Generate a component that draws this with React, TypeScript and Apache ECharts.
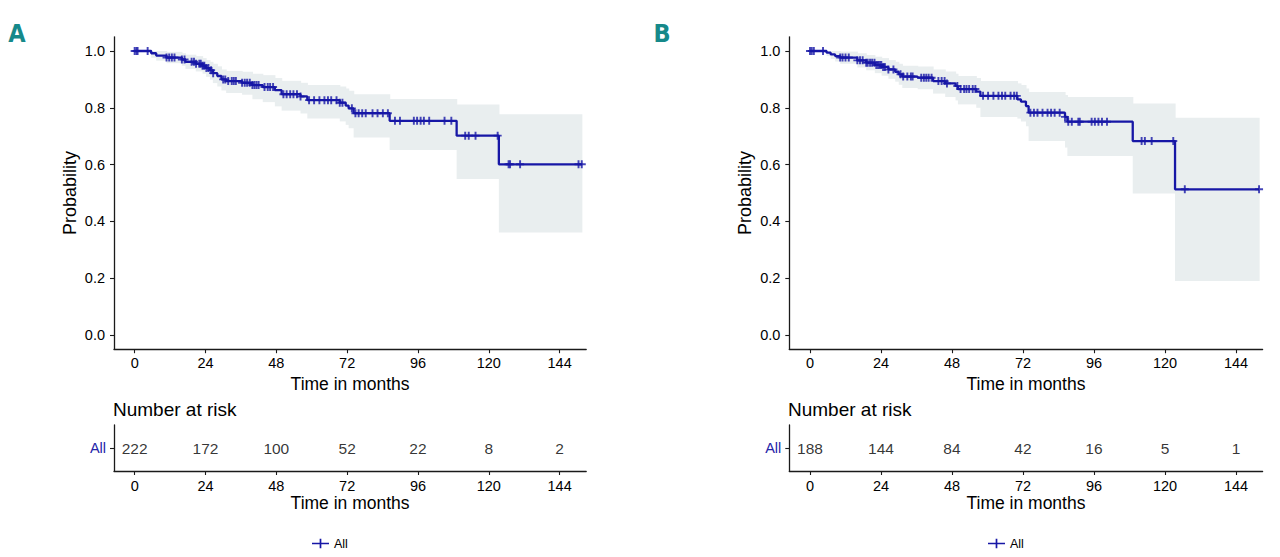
import React, { useEffect, useRef } from "react";
import * as echarts from "echarts";

// ---------- Data ----------
const X_TICKS = [0, 24, 48, 72, 96, 120, 144];
const Y_TICKS = [0, 0.2, 0.4, 0.6, 0.8, 1.0];
const RISK_ROWS = ["All"];

// Panel A: Kaplan–Meier steps
const TIME_A = [0, 5.6, 7.3, 10.8, 16.0, 17.2, 20.7, 23.0, 24.2, 25.5, 26.5, 28.0, 29.4, 31.0, 36.4, 39.9, 43.4, 47.5, 49.8, 56.2, 58.5, 69.5, 71.5, 72.5, 74.2, 86.4, 109.1, 123.4];
const SURV_A = [1.0, 0.992, 0.984, 0.977, 0.970, 0.962, 0.955, 0.948, 0.940, 0.932, 0.922, 0.912, 0.900, 0.894, 0.888, 0.880, 0.873, 0.862, 0.848, 0.840, 0.827, 0.818, 0.808, 0.798, 0.781, 0.754, 0.702, 0.601];
const LOWER_A = [1.0, 0.976, 0.966, 0.957, 0.948, 0.937, 0.928, 0.920, 0.909, 0.899, 0.887, 0.875, 0.861, 0.852, 0.846, 0.830, 0.820, 0.805, 0.790, 0.780, 0.762, 0.752, 0.740, 0.728, 0.695, 0.651, 0.549, 0.361];
const UPPER_A = [1.0, 1.0, 1.0, 0.997, 0.992, 0.987, 0.982, 0.975, 0.968, 0.962, 0.955, 0.946, 0.935, 0.930, 0.927, 0.920, 0.915, 0.905, 0.895, 0.888, 0.880, 0.875, 0.868, 0.860, 0.848, 0.831, 0.812, 0.777];
const END_A = 151.5;
const CENSOR_A = [0, 0.6, 1.0, 4.4, 10.8, 11.7, 12.6, 13.5, 16.0, 16.9, 19.3, 20.1, 20.8, 21.9, 22.4, 23.0, 23.6, 24.3, 25.0, 25.9, 26.6, 30.0, 30.7, 31.7, 32.9, 33.6, 34.3, 36.4, 37.3, 38.1, 39.0, 39.9, 40.6, 41.3, 42.0, 44.0, 45.1, 45.9, 46.9, 50.4, 51.5, 52.7, 53.8, 55.0, 56.2, 59.1, 60.8, 62.6, 64.3, 65.5, 66.6, 68.4, 69.5, 70.4, 73.6, 74.8, 75.9, 77.1, 78.3, 80.6, 82.3, 84.1, 85.8, 88.2, 89.9, 94.6, 95.7, 96.9, 98.0, 99.8, 105.0, 107.3, 112.0, 113.2, 115.5, 123.0, 126.7, 127.2, 130.6, 150.4, 151.5];
const RISK_A = [222, 172, 100, 52, 22, 8, 2];

// Panel B: Kaplan–Meier steps
const TIME_B = [0, 5.6, 7.0, 8.5, 10.2, 16.0, 19.0, 21.9, 24.2, 26.5, 28.8, 30.0, 31.2, 36.4, 41.6, 45.7, 49.2, 50.0, 56.2, 57.6, 70.1, 71.3, 73.0, 73.9, 86.2, 87.0, 109.1, 123.4];
const SURV_B = [1.0, 0.994, 0.988, 0.982, 0.977, 0.967, 0.959, 0.951, 0.944, 0.935, 0.927, 0.918, 0.910, 0.906, 0.894, 0.886, 0.877, 0.866, 0.857, 0.842, 0.830, 0.822, 0.806, 0.783, 0.768, 0.751, 0.683, 0.513];
const LOWER_B = [1.0, 0.982, 0.972, 0.963, 0.955, 0.942, 0.932, 0.922, 0.913, 0.902, 0.892, 0.881, 0.870, 0.865, 0.850, 0.838, 0.826, 0.812, 0.800, 0.768, 0.762, 0.752, 0.735, 0.683, 0.660, 0.630, 0.498, 0.190];
const UPPER_B = [1.0, 1.0, 1.0, 1.0, 0.998, 0.992, 0.986, 0.980, 0.975, 0.968, 0.962, 0.955, 0.948, 0.945, 0.935, 0.928, 0.920, 0.912, 0.905, 0.894, 0.886, 0.880, 0.868, 0.856, 0.845, 0.838, 0.815, 0.765];
const END_B = 151.8;
const CENSOR_B = [0, 0.6, 1.3, 4.4, 10.2, 11.0, 12.0, 13.1, 16.0, 16.9, 17.8, 19.0, 19.5, 20.3, 21.0, 21.8, 22.4, 23.0, 23.6, 24.1, 24.7, 25.3, 26.5, 28.2, 30.6, 31.5, 32.9, 34.1, 34.7, 37.6, 38.5, 39.3, 40.1, 41.1, 43.4, 44.5, 45.5, 46.3, 49.8, 50.9, 52.1, 52.9, 53.8, 55.0, 55.9, 58.5, 60.2, 62.0, 63.7, 64.9, 66.0, 67.8, 69.0, 69.9, 74.5, 75.7, 76.9, 78.6, 80.3, 81.5, 82.7, 84.4, 86.2, 87.3, 88.5, 90.7, 91.2, 95.2, 96.3, 97.5, 98.7, 100.4, 112.1, 113.2, 115.5, 122.8, 126.7, 151.8];
const RISK_B = [188, 144, 84, 42, 16, 5, 1];

// ---------- Styles ----------
const FONT = '"Liberation Sans", Arial, Helvetica, sans-serif';
const BLUE = "#1717a6";
const BAND = "#e9eeef";
const AXIS = "#1a1a1a";
const TEXT = "#000000";
const TEAL = "#16898a";
const PLUS = "path://M3.8,0H6.2V10H3.8Z M0,3.8H10V6.2H0Z";
const LEGEND_ICON = "path://M0,4.2H18V5.8H0Z M8.1,0H9.9V10H8.1Z";

function survAt(times: number[], surv: number[], t: number) {
  let v = surv[0];
  for (let i = 0; i < times.length; i++) {
    if (times[i] <= t) v = surv[i];
  }
  return v;
}

function bandData(times: number[], lo: number[], hi: number[], end: number) {
  return times.map((t, i) => [t, i + 1 < times.length ? times[i + 1] : end, lo[i], hi[i]]);
}

function lineData(times: number[], surv: number[], end: number) {
  const d = times.map((t, i) => [t, surv[i]]);
  d.push([end, surv[surv.length - 1]]);
  return d;
}

function kmXAxis(grid: number, labelMargin: number, nameGap: number) {
  return {
    gridIndex: grid,
    type: "value",
    min: -7,
    max: 153,
    axisLine: { show: true, onZero: false, lineStyle: { color: AXIS, width: 1.3 } },
    axisTick: { show: true, length: 4, customValues: X_TICKS, lineStyle: { color: AXIS, width: 1.1 } },
    axisLabel: { customValues: X_TICKS, margin: labelMargin, fontSize: 14.5, color: TEXT, fontFamily: FONT },
    splitLine: { show: false },
    name: "Time in months",
    nameLocation: "middle",
    nameGap,
    nameTextStyle: { fontSize: 17.5, color: TEXT, fontFamily: FONT },
  };
}

function kmYAxis(grid: number) {
  return {
    gridIndex: grid,
    type: "value",
    min: -0.05,
    max: 1.05,
    axisLine: { show: true, onZero: false, lineStyle: { color: AXIS, width: 1.3 } },
    axisTick: { show: true, length: 4, customValues: Y_TICKS, lineStyle: { color: AXIS, width: 1.1 } },
    axisLabel: {
      customValues: Y_TICKS,
      margin: 9,
      fontSize: 14.5,
      color: TEXT,
      fontFamily: FONT,
      formatter: (v: number) => v.toFixed(1),
    },
    splitLine: { show: false },
    name: "Probability",
    nameLocation: "middle",
    nameGap: 35,
    nameRotate: 90,
    nameTextStyle: { fontSize: 18, color: TEXT, fontFamily: FONT },
  };
}

function riskYAxis(grid: number) {
  return {
    gridIndex: grid,
    type: "category",
    data: RISK_ROWS,
    axisLine: { show: true, onZero: false, lineStyle: { color: AXIS, width: 1.3 } },
    axisTick: { show: true, length: 4, alignWithLabel: true, lineStyle: { color: AXIS, width: 1.1 } },
    axisLabel: { margin: 8, fontSize: 14.5, color: "#2424a8", fontFamily: FONT },
    splitLine: { show: false },
  };
}

function bandSeries(axis: number, data: number[][]) {
  return {
    type: "custom",
    xAxisIndex: axis,
    yAxisIndex: axis,
    silent: true,
    encode: { x: [0, 1], y: [2, 3] },
    data,
    renderItem: (_p: any, api: any) => {
      const a = api.coord([api.value(0), api.value(3)]);
      const b = api.coord([api.value(1), api.value(2)]);
      return {
        type: "rect",
        shape: { x: a[0], y: a[1], width: b[0] - a[0] + 0.6, height: b[1] - a[1] },
        style: { fill: BAND },
      };
    },
    z: 1,
  };
}

function kmLine(axis: number, data: number[][]) {
  return {
    name: "All",
    type: "line",
    xAxisIndex: axis,
    yAxisIndex: axis,
    step: "end",
    showSymbol: false,
    symbol: "none",
    data,
    lineStyle: { color: BLUE, width: 2.3 },
    itemStyle: { color: BLUE },
    z: 3,
  };
}

function censorSeries(axis: number, censors: number[], times: number[], surv: number[]) {
  return {
    type: "scatter",
    xAxisIndex: axis,
    yAxisIndex: axis,
    symbol: PLUS,
    symbolSize: 8,
    itemStyle: { color: BLUE },
    data: censors.map((t) => [t, survAt(times, surv, t)]),
    silent: true,
    z: 4,
  };
}

function riskSeries(axis: number, counts: number[]) {
  return {
    type: "scatter",
    xAxisIndex: axis,
    yAxisIndex: axis,
    symbolSize: 1,
    itemStyle: { color: "transparent" },
    data: X_TICKS.map((t, i) => [t, RISK_ROWS[0], counts[i]]),
    label: {
      show: true,
      position: "inside",
      formatter: (p: any) => String(p.value[2]),
      fontSize: 15.5,
      color: TEXT,
      fontFamily: FONT,
    },
    silent: true,
  };
}

export default function App() {
  const ref = useRef<HTMLDivElement>(null);

  useEffect(() => {
    if (!ref.current) return;
    const chart = echarts.init(ref.current, undefined, { renderer: "svg" });
    const option: any = {
      animation: false,
      backgroundColor: "#ffffff",
      grid: [
        { left: 114, top: 36.8, width: 472.2, height: 312.4 },
        { left: 789.3, top: 36.8, width: 473.3, height: 312.4 },
        { left: 114, top: 425, width: 472.2, height: 46 },
        { left: 789.3, top: 425, width: 473.3, height: 46 },
      ],
      xAxis: [kmXAxis(0, 6, 21), kmXAxis(1, 6, 21), kmXAxis(2, 7, 22), kmXAxis(3, 7, 22)],
      yAxis: [kmYAxis(0), kmYAxis(1), riskYAxis(2), riskYAxis(3)],
      title: [
        { text: "Number at risk", left: 113, top: 400, padding: 0, textStyle: { fontSize: 19, fontWeight: "normal", color: TEXT, fontFamily: FONT } },
        { text: "Number at risk", left: 788, top: 400, padding: 0, textStyle: { fontSize: 19, fontWeight: "normal", color: TEXT, fontFamily: FONT } },
      ],
      legend: [
        {
          left: 312, top: 537, padding: 0, itemWidth: 17, itemHeight: 10, selectedMode: false,
          data: [{ name: "All", icon: LEGEND_ICON }],
          textStyle: { fontSize: 12.5, color: TEXT, fontFamily: FONT },
        },
        {
          left: 988, top: 537, padding: 0, itemWidth: 17, itemHeight: 10, selectedMode: false,
          data: [{ name: "All", icon: LEGEND_ICON }],
          textStyle: { fontSize: 12.5, color: TEXT, fontFamily: FONT },
        },
      ],
      graphic: [
        {
          type: "text", x: 17, y: 33,
          style: { text: "A", fill: TEAL, align: "center", verticalAlign: "middle", fontSize: 25, fontWeight: "bold", fontFamily: '"DejaVu Sans Condensed", "Liberation Sans Narrow", sans-serif' },
        },
        {
          type: "text", x: 662, y: 33,
          style: { text: "B", fill: TEAL, align: "center", verticalAlign: "middle", fontSize: 25, fontWeight: "bold", fontFamily: '"DejaVu Sans Condensed", "Liberation Sans Narrow", sans-serif' },
        },
      ],
      series: [
        bandSeries(0, bandData(TIME_A, LOWER_A, UPPER_A, END_A)),
        kmLine(0, lineData(TIME_A, SURV_A, END_A)),
        censorSeries(0, CENSOR_A, TIME_A, SURV_A),
        bandSeries(1, bandData(TIME_B, LOWER_B, UPPER_B, END_B)),
        kmLine(1, lineData(TIME_B, SURV_B, END_B)),
        censorSeries(1, CENSOR_B, TIME_B, SURV_B),
        riskSeries(2, RISK_A),
        riskSeries(3, RISK_B),
      ],
    };
    chart.setOption(option);
    return () => chart.dispose();
  }, []);

  return (
    <div
      ref={ref}
      style={{ position: "absolute", left: 0, top: 0, width: 1280, height: 557 }}
    />
  );
}
